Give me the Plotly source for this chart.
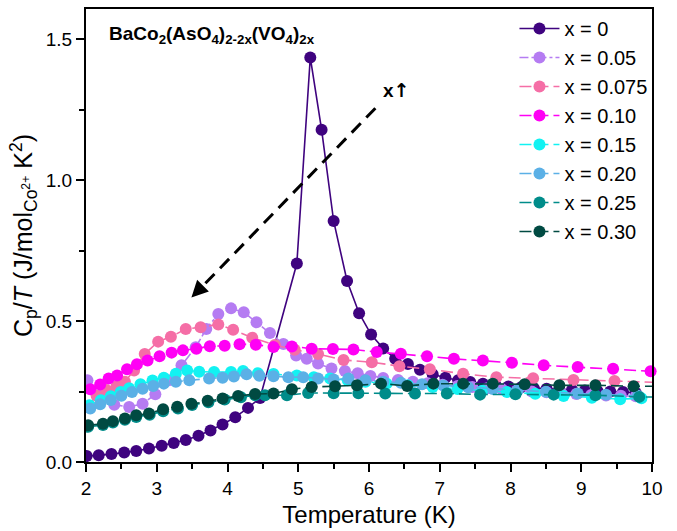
import plotly.graph_objects as go

# ---- data ----
labels = ["x = 0", "x = 0.05", "x = 0.075", "x = 0.10", "x = 0.15", "x = 0.20", "x = 0.25", "x = 0.30"]

T0 = [2.01, 2.18, 2.36, 2.54, 2.71, 2.89, 3.07, 3.24, 3.41, 3.59, 3.76, 3.93, 4.11, 4.29, 4.46, 4.98, 5.17, 5.33,
      5.50, 5.69, 5.86, 6.03, 6.20, 6.37, 6.55, 6.72, 6.90, 7.08, 7.26, 7.43, 7.61, 7.79, 7.97, 8.15, 8.33, 8.51,
      8.69, 8.87, 9.05, 9.23, 9.41, 9.59, 9.77]
C0 = [0.021, 0.024, 0.028, 0.034, 0.039, 0.048, 0.058, 0.067, 0.078, 0.093, 0.112, 0.133, 0.159, 0.192, 0.227,
      0.704, 1.435, 1.179, 0.855, 0.642, 0.528, 0.452, 0.403, 0.366, 0.348, 0.327, 0.311, 0.299, 0.290, 0.284,
      0.278, 0.272, 0.268, 0.265, 0.262, 0.260, 0.258, 0.256, 0.254, 0.252, 0.250, 0.248, 0.246]

T1 = [2.02, 2.21, 2.40, 2.61, 2.80, 2.98, 3.17, 3.35, 3.55, 3.70, 3.87, 4.05, 4.23, 4.41, 4.60, 4.79, 4.97, 5.12,
      5.28, 5.47, 5.66, 5.84, 6.02, 6.20, 6.41, 6.62, 6.83, 7.04, 7.25, 7.46, 7.67, 7.88, 8.09, 8.30, 8.51, 8.72,
      8.93, 9.14, 9.35, 9.56, 9.77]
C1 = [0.290, 0.237, 0.203, 0.195, 0.207, 0.240, 0.290, 0.343, 0.407, 0.472, 0.525, 0.545, 0.531, 0.496, 0.458,
      0.419, 0.378, 0.366, 0.349, 0.332, 0.323, 0.315, 0.305, 0.298, 0.291, 0.285, 0.279, 0.274, 0.270, 0.266,
      0.262, 0.258, 0.254, 0.250, 0.247, 0.244, 0.241, 0.238, 0.236, 0.235, 0.233]

T2 = [2.01, 2.15, 2.29, 2.43, 2.55, 2.68, 2.83, 3.02, 3.20, 3.41, 3.62, 3.87, 4.08, 4.35, 4.67, 4.95, 5.28, 5.64,
      6.04, 6.43, 6.86, 7.33, 7.80, 8.32, 8.89, 9.47, 10.1]
C2 = [0.195, 0.235, 0.255, 0.268, 0.285, 0.325, 0.383, 0.427, 0.444, 0.472, 0.478, 0.488, 0.469, 0.441, 0.415,
      0.398, 0.383, 0.362, 0.354, 0.340, 0.329, 0.313, 0.301, 0.297, 0.291, 0.287, 0.282]

T3 = [2.06, 2.20, 2.32, 2.44, 2.58, 2.72, 2.87, 3.04, 3.21, 3.37, 3.56, 3.75, 3.96, 4.17, 4.40, 4.65, 4.91, 5.19,
      5.49, 5.78, 6.11, 6.45, 6.82, 7.20, 7.61, 8.02, 8.47, 8.95, 9.45, 9.98]
C3 = [0.258, 0.275, 0.296, 0.307, 0.329, 0.347, 0.360, 0.375, 0.388, 0.396, 0.402, 0.411, 0.412, 0.418, 0.416,
      0.408, 0.410, 0.402, 0.401, 0.399, 0.390, 0.384, 0.375, 0.366, 0.360, 0.352, 0.343, 0.337, 0.331, 0.322]

T4 = [2.05, 2.21, 2.35, 2.49, 2.61, 2.77, 2.94, 3.10, 3.27, 3.43, 3.60, 3.81, 4.05, 4.22, 4.43, 4.65, 4.98, 5.22,
      5.45, 5.70, 5.95, 6.25, 6.55, 6.90, 7.25, 7.60, 7.95, 8.35, 8.75, 9.15, 9.55, 9.85]
C4 = [0.201, 0.219, 0.233, 0.248, 0.262, 0.276, 0.289, 0.299, 0.313, 0.325, 0.320, 0.319, 0.319, 0.323, 0.315,
      0.312, 0.307, 0.301, 0.296, 0.290, 0.285, 0.278, 0.272, 0.266, 0.259, 0.253, 0.248, 0.242, 0.234, 0.228,
      0.223, 0.226]

T5 = [2.06, 2.20, 2.35, 2.50, 2.65, 2.80, 2.95, 3.10, 3.27, 3.46, 3.74, 3.93, 4.09, 4.27, 4.45, 4.65, 4.86, 5.07,
      5.28, 5.50, 5.71, 5.95, 6.20, 6.45, 6.75, 7.05, 7.40, 7.75, 8.10, 8.50, 8.95, 9.35, 9.80]
C5 = [0.190, 0.205, 0.220, 0.235, 0.248, 0.260, 0.270, 0.278, 0.285, 0.290, 0.296, 0.299, 0.303, 0.311, 0.306,
      0.304, 0.301, 0.301, 0.296, 0.293, 0.296, 0.290, 0.285, 0.281, 0.276, 0.271, 0.265, 0.259, 0.254, 0.249,
      0.243, 0.239, 0.235]

T6 = [2.03, 2.24, 2.38, 2.55, 2.71, 2.90, 3.09, 3.30, 3.50, 3.73, 3.96, 4.19, 4.39, 4.53, 4.84, 5.14, 5.50, 5.85,
      6.23, 6.65, 7.10, 7.57, 8.07, 8.61, 9.20, 9.82, 10.4]
C6 = [0.125, 0.131, 0.140, 0.150, 0.160, 0.168, 0.180, 0.190, 0.202, 0.212, 0.222, 0.230, 0.237, 0.237, 0.237,
      0.245, 0.244, 0.244, 0.243, 0.243, 0.243, 0.239, 0.240, 0.239, 0.237, 0.231, 0.229]

T7 = [2.03, 2.24, 2.38, 2.55, 2.71, 2.89, 3.09, 3.29, 3.49, 3.72, 3.93, 4.15, 4.39, 4.65, 4.91, 5.19, 5.52, 5.83,
      6.17, 6.54, 6.91, 7.33, 7.75, 8.20, 8.69, 9.20, 9.74, 10.3]
C7 = [0.130, 0.136, 0.145, 0.154, 0.166, 0.172, 0.187, 0.196, 0.207, 0.217, 0.225, 0.234, 0.241, 0.243, 0.258,
      0.266, 0.269, 0.272, 0.278, 0.270, 0.278, 0.278, 0.278, 0.276, 0.272, 0.272, 0.269, 0.268]

xs = [T0, T1, T2, T3, T4, T5, T6, T7]
ys = [C0, C1, C2, C3, C4, C5, C6, C7]

colors = ["#3F037F", "#B57CF2", "#F56EA6", "#FF00F5", "#12F2F2", "#5BB0E6", "#008C8A", "#004A42"]
dashes = ["solid", "9px,3px,3px,3px", "12px,5px", "12px,5px", "12px,5px", "12px,5px", "12px,5px", "12px,5px"]

FONT = "Liberation Sans, Arial, sans-serif"

fig = go.Figure()
for i in range(8):
    fig.add_trace(go.Scatter(
        x=xs[i], y=ys[i], name=labels[i], mode="lines+markers",
        line=dict(color=colors[i], width=1.6, dash=dashes[i]),
        marker=dict(color=colors[i], size=12),
        cliponaxis=(i != 3),
    ))

fig.update_layout(
    width=677, height=531,
    margin=dict(l=86, r=25, t=7, b=69),
    paper_bgcolor="white", plot_bgcolor="white",
    font=dict(family=FONT, color="black", size=19),
    showlegend=True,
    legend=dict(x=0.757, y=1.0, xanchor="left", yanchor="top",
                bgcolor="rgba(0,0,0,0)", font=dict(size=20, family=FONT),
                tracegroupgap=0, itemwidth=40),
)

fig.update_xaxes(
    range=[2, 10], showgrid=False, zeroline=False,
    showline=True, linecolor="black", linewidth=2, mirror=True,
    ticks="outside", ticklen=8, tickwidth=2, tickcolor="black",
    dtick=1, tick0=2, tickfont=dict(size=19),
    minor=dict(dtick=0.5, ticks="outside", ticklen=5, tickwidth=1.5, tickcolor="black"),
    title=dict(text="Temperature (K)", font=dict(size=24), standoff=8),
)
fig.update_yaxes(
    range=[0, 1.607], showgrid=False, zeroline=False,
    showline=True, linecolor="black", linewidth=2, mirror=True,
    ticks="outside", ticklen=8, tickwidth=2, tickcolor="black",
    tickvals=[0, 0.5, 1.0, 1.5], ticktext=["0.0", "0.5", "1.0", "1.5"], tickfont=dict(size=19),
    minor=dict(tickvals=[0.25, 0.75, 1.25], ticks="outside", ticklen=5, tickwidth=1.5, tickcolor="black"),
    title=dict(text="C<sub>p</sub>/<i>T</i> (J/mol<sub>Co<sup>2+</sup></sub> K<sup>2</sup>)",
               font=dict(size=25), standoff=6),
)

# compound label
fig.add_annotation(
    xref="paper", yref="paper", x=0.037, y=0.943, xanchor="left", yanchor="middle",
    text="<b>BaCo<sub>2</sub>(AsO<sub>4</sub>)<sub>2-2x</sub>(VO<sub>4</sub>)<sub>2x</sub></b>",
    showarrow=False, font=dict(size=19, family=FONT),
)

# dashed trend arrow
fig.add_shape(type="line", xref="x", yref="y", x0=6.09, y0=1.255, x1=3.58, y1=0.606,
              line=dict(color="black", width=3, dash="13px,8px"))
fig.add_annotation(xref="x", yref="y", x=3.49, y=0.584, ax=3.62, ay=0.617, axref="x", ayref="y",
                   text="", showarrow=True, arrowhead=2, arrowsize=1.1, arrowwidth=3, arrowcolor="black")
fig.add_annotation(xref="x", yref="y", x=6.39, y=1.32,
                   text="<b>x<span style='font-family:DejaVu Sans'>↑</span></b>", showarrow=False,
                   font=dict(size=19, family=FONT))

fig.write_html("out.html")
